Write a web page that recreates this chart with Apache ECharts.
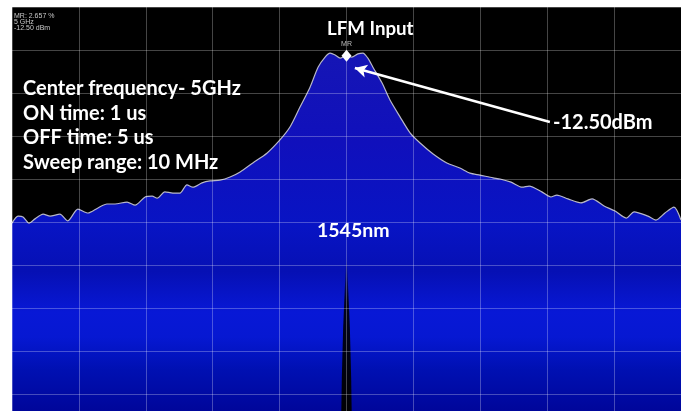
<!DOCTYPE html>
<html><head><meta charset="utf-8">
<script src="https://cdn.jsdelivr.net/npm/echarts@6/dist/echarts.min.js"></script>
<style>html,body{margin:0;padding:0;background:#fff}#c{width:687px;height:411px}</style>
</head><body><div id="c"></div>
<script>
// Frequency (MHz) and trace level (dBm)
const freqMHz = [4990.00,4990.18,4990.33,4990.51,4990.69,4990.93,4991.14,4991.43,4991.67,4991.97,
  4992.27,4992.57,4992.84,4993.08,4993.44,4993.68,4993.98,4994.19,4994.34,4994.57,
  4994.81,4995.02,4995.23,4995.41,4995.68,4995.92,4996.22,4996.52,4996.82,4997.20,
  4997.62,4998.01,4998.31,4998.61,4998.91,4999.15,4999.36,4999.51,4999.66,4999.81,
  5000.00,5000.16,5000.34,5000.49,5000.64,5000.79,5001.06,5001.30,5001.60,5001.90,
  5002.20,5002.59,5003.00,5003.39,5003.69,5003.99,5004.38,5004.59,5004.92,5005.25,
  5005.46,5005.84,5006.11,5006.29,5006.62,5007.01,5007.34,5007.70,5008.03,5008.36,
  5008.60,5009.01,5009.25,5009.52,5009.79,5010.00];
const traceDbm = [-55.3,-53.5,-53.7,-55.3,-54.2,-53.0,-53.5,-53.0,-54.7,-51.7,
  -52.7,-51.4,-50.4,-50.4,-49.9,-50.7,-48.6,-48.4,-48.9,-47.3,
  -47.6,-47.6,-45.5,-46.1,-45.0,-44.5,-44.3,-43.5,-42.2,-39.9,
  -37.4,-34.0,-30.7,-25.6,-20.5,-15.4,-12.8,-11.8,-12.3,-13.1,
  -12.5,-12.8,-12.0,-11.8,-13.1,-15.4,-19.4,-23.8,-28.1,-32.2,
  -34.8,-37.6,-39.9,-41.2,-42.5,-43.0,-43.7,-44.0,-44.8,-46.1,
  -45.8,-47.3,-48.6,-48.1,-49.1,-50.1,-49.1,-50.9,-52.2,-54.0,
  -52.4,-53.5,-54.5,-52.7,-51.2,-54.5];
// dark notch at the carrier (1545nm)
const notchFreq = [5000.00,5000.05,5000.10,5000.14,5000.17,4999.83,4999.86,4999.90,4999.95];
const notchDbm  = [-63,-72,-82,-95,-112,-112,-95,-82,-72];
// marker
const markerFreq = 5000.00;
const markerDbm = -12.50;
// annotation arrow (tail, head)
const arrowTail = [5006.08, -29.4];
const arrowHead = [5000.25, -15.6];
// axes
const xMin = 4990, xMax = 5010, xStep = 2;
const yMin = -110, yMax = 0, yStep = 11;
const infoLines = ['MR: 2.657 %', '5 GHz', '-12.50 dBm'];
const leftLines = ['Center frequency- 5GHz', 'ON time: 1 us', 'OFF time: 5 us', 'Sweep range: 10 MHz'];

const trace = freqMHz.map((f, i) => [f, traceDbm[i]]);
const chart = echarts.init(document.getElementById('c'), null, {renderer: 'canvas'});
const font = 'Lato, "Open Sans", sans-serif';
const splitStyle = {show: true, lineStyle: {color: 'rgba(255,255,255,0.27)', width: 1}};

chart.setOption({
  animation: false,
  backgroundColor: '#fff',
  grid: {left: 12, top: 7, width: 669, height: 430, show: true, backgroundColor: '#000', borderWidth: 0,
    containLabel: false, outerBoundsMode: 'none'},
  xAxis: {type: 'value', min: xMin, max: xMax, interval: xStep, z: 3,
    axisLine: {show: false}, axisTick: {show: false}, axisLabel: {show: false}, splitLine: splitStyle},
  yAxis: {type: 'value', min: yMin, max: yMax, interval: yStep, z: 3,
    axisLine: {show: false}, axisTick: {show: false}, axisLabel: {show: false}, splitLine: splitStyle},
  series: [
    {type: 'line', data: trace, showSymbol: false, smooth: 0.25, z: 2,
      lineStyle: {color: '#b8b8c8', width: 1.2},
      areaStyle: {origin: 'start', opacity: 1, color: {type: 'linear', x: 0, y: 0, x2: 0, y2: 411, global: true,
        colorStops: [
          {offset: 0.10, color: '#1616b4'},
          {offset: 0.35, color: '#1010bc'},
          {offset: 0.55, color: '#0814c4'},
          {offset: 0.66, color: '#0610b4'},
          {offset: 0.76, color: '#0818d6'},
          {offset: 0.82, color: '#0618d2'},
          {offset: 0.90, color: '#0010b2'},
          {offset: 1.00, color: '#00069a'}]}},
      markPoint: {symbol: 'diamond', symbolSize: [10, 12], silent: true,
        itemStyle: {color: '#fff'},
        label: {show: true, position: 'top', distance: 2, formatter: 'MR', color: '#bbb', fontSize: 7, fontFamily: 'Liberation Sans'},
        data: [{coord: [markerFreq, markerDbm]}]},
      markLine: {silent: true, symbol: ['none', 'arrow'], symbolSize: [10, 12],
        lineStyle: {color: '#fff', width: 2.5, type: 'solid'}, label: {show: false},
        data: [[{coord: arrowTail}, {coord: arrowHead}]]}
    },
    {type: 'custom', data: [0], z: 2.5, silent: true,
      renderItem: (params, api) => {
        const pts = notchFreq.map((f, i) => api.coord([f, notchDbm[i]]));
        return {type: 'polygon', shape: {points: pts},
          style: {fill: {type: 'linear', x: 0, y: 0, x2: 0, y2: 1,
            colorStops: [{offset: 0, color: 'rgba(0,0,0,0)'}, {offset: 0.25, color: 'rgba(0,0,0,0.85)'}, {offset: 1, color: '#000'}]}}};
      }}
  ],
  graphic: [
    {type: 'text', left: 14, top: 13, z: 100, style: {text: infoLines.join('\n'), fill: '#c8c8c8', font: '7px "Liberation Sans"', lineHeight: 6}},
    {type: 'text', left: 327, top: 19, z: 100, style: {text: 'LFM Input', fill: '#fff', font: 'bold 18.7px ' + font}},
    {type: 'text', left: 553, top: 113, z: 100, style: {text: '-12.50dBm', fill: '#fff', font: 'bold 20px ' + font}},
    {type: 'text', left: 317, top: 221, z: 100, style: {text: '1545nm', fill: '#fff', font: 'bold 19.5px ' + font}},
    {type: 'text', left: 23, top: 76, z: 100, style: {text: leftLines.join('\n'), fill: '#fff', font: 'bold 20px ' + font, lineHeight: 24.7}}
  ]
});
</script></body></html>
